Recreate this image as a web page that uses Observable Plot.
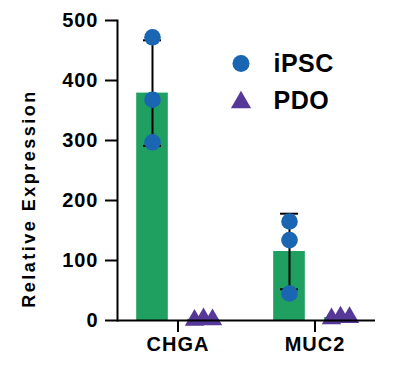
<!DOCTYPE html>
<html><head><meta charset="utf-8">
<script src="https://cdn.jsdelivr.net/npm/d3@7"></script>
<script src="https://cdn.jsdelivr.net/npm/@observablehq/plot@0.6"></script>
<style>
body{margin:0;background:#fff}
g[aria-label="y-axis tick label"], g[aria-label="x-axis tick label"] {font-size:20px; letter-spacing:1px; font-weight:bold}
</style>
</head><body><div id="chart"></div>
<script>
// ---- data ----
const genes = ["CHGA", "MUC2"];
const seriesNames = ["iPSC", "PDO"];
const ipscReps = [[472, 368, 297], [165, 134, 45]];
const pdoReps = [[0.5, 3, 1.5], [3, 6, 5]];
const ipscMean = [379, 115];
const ipscLow = [291, 52];
const ipscHigh = [467, 178];
const pdoMean = [2, 5];
const yTicks = [0, 100, 200, 300, 400, 500];
const yLabel = "Relative Expression";

// ---- colours ----
const green = "#1f9f60";
const blue = "#1a66b2";
const purple = "#553897";

// tables built from the arrays
const ipscBars = genes.map((g, i) => ({gene: g, mean: ipscMean[i], low: ipscLow[i], high: ipscHigh[i]}));
const pdoBars = genes.map((g, i) => ({gene: g, mean: pdoMean[i]}));
const ipscPts = genes.flatMap((g, i) => ipscReps[i].map((v, k) => ({gene: g, value: v, rep: k})));
const pdoPts = genes.flatMap((g, i) => pdoReps[i].map((v, k) => ({gene: g, value: v, rep: k})));

const off = 25.5;      // group offset from category centre
const font = "'Liberation Sans', Arial, Helvetica, sans-serif";

const chart = Plot.plot({
  width: 400,
  height: 365,
  marginTop: 20,
  marginBottom: 45,
  marginLeft: 117,
  marginRight: 25,
  style: {fontFamily: font, fontWeight: "bold", fontSize: "19px", color: "#000", background: "#fff"},
  x: {domain: genes, paddingInner: 0.5, paddingOuter: 0.19},
  y: {domain: [0, 500]},
  marks: [
    Plot.barY(ipscBars, {x: "gene", y: "mean", fill: green, dx: -off, insetLeft: 18.7, insetRight: 18.7}),
    Plot.barY(pdoBars, {x: "gene", y: "mean", fill: green, dx: off, insetLeft: 18.7, insetRight: 18.7}),
    Plot.ruleX(ipscBars, {x: "gene", y1: "low", y2: "high", dx: -off, stroke: "#000", strokeWidth: 2}),
    Plot.tickY(ipscBars, {x: "gene", y: "high", dx: -off, stroke: "#000", strokeWidth: 2, insetLeft: 25.5, insetRight: 25.5}),
    Plot.tickY(ipscBars, {x: "gene", y: "low", dx: -off, stroke: "#000", strokeWidth: 2, insetLeft: 25.5, insetRight: 25.5}),
    Plot.dot(ipscPts, {x: "gene", y: "value", dx: -off, r: 8.3, fill: blue}),
    ...[0, 1, 2].map(k => Plot.dot(pdoPts.filter(d => d.rep === k), {
      x: "gene", y: "value", dx: off + (k - 1) * 9, symbol: "triangle", r: 7.2, fill: purple
    })),
    Plot.ruleY([0], {stroke: "#000", strokeWidth: 2}),
    Plot.frame({anchor: "left", stroke: "#000", strokeWidth: 2}),
    Plot.axisY({ticks: yTicks, tickSize: 12, tickPadding: 7, strokeWidth: 2, label: null, tickFormat: d => String(d)}),
    Plot.axisX({tickSize: 12, tickPadding: 4, strokeWidth: 2, label: null}),
    Plot.text([yLabel], {frameAnchor: "left", textAnchor: "middle", lineAnchor: "middle", rotate: -90, dx: -88, dy: 28, fontSize: 18, fontWeight: "bold", fill: "#000"}),
    // legend
    Plot.dot([seriesNames[0]], {frameAnchor: "top-left", dx: 123.5, dy: 43, r: 8.5, fill: blue}),
    Plot.dot([seriesNames[1]], {frameAnchor: "top-left", dx: 123.5, dy: 82, r: 7.5, symbol: "triangle", fill: purple}),
    Plot.text([seriesNames[0]], {text: d => d, frameAnchor: "top-left", dx: 156, dy: 43, textAnchor: "start", lineAnchor: "middle", fontSize: 25, fontWeight: "bold", fill: "#000"}),
    Plot.text([seriesNames[1]], {text: d => d, frameAnchor: "top-left", dx: 156, dy: 80, textAnchor: "start", lineAnchor: "middle", fontSize: 25, fontWeight: "bold", fill: "#000"})
  ]
});
chart.querySelectorAll("text").forEach(t => {
  if (t.textContent === yLabel) t.setAttribute("letter-spacing", "2.5");
  if (seriesNames.includes(t.textContent)) t.setAttribute("letter-spacing", "0.5");
});
document.getElementById("chart").appendChild(chart);
</script>
</body></html>
